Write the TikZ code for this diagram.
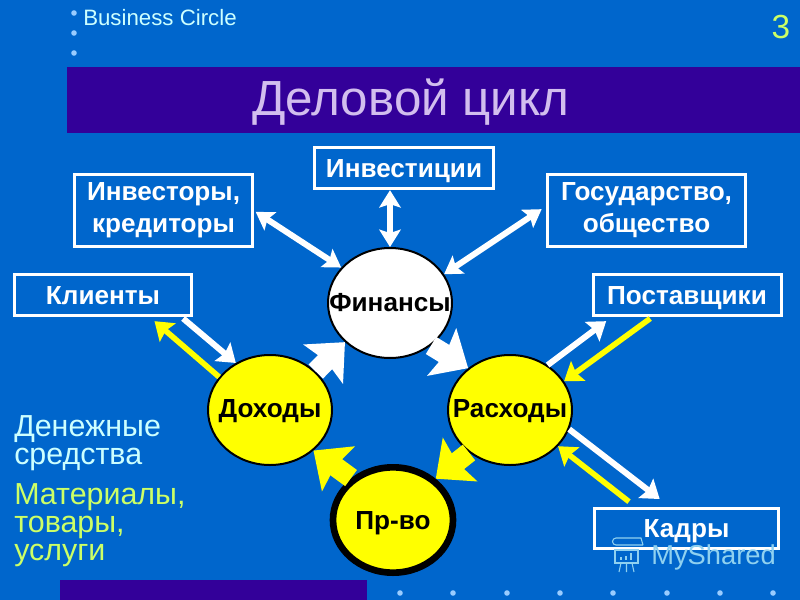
\documentclass[tikz,border=0pt]{standalone}
\usepackage{fontspec}
\setmainfont{Liberation Sans}
\usetikzlibrary{arrows.meta,shapes.geometric}
\definecolor{bgblue}{HTML}{0066CC}
\definecolor{barblue}{HTML}{330099}
\definecolor{lilac}{HTML}{D2BEEE}
\definecolor{pale}{HTML}{CCFFFF}
\definecolor{lime}{HTML}{CCFF66}
\definecolor{dotc}{HTML}{99CCFF}
\definecolor{yel}{HTML}{FFFF00}
\colorlet{wmark}{pale!70!bgblue}
\tikzset{
  x=0.75pt,y=-0.75pt,
  boxn/.style={draw=white,line width=2.25pt,inner sep=0pt,align=center,text=white,font=\fontsize{19.6}{24}\selectfont\bfseries},
  oneline/.style={boxn,text height=14pt,text depth=0pt},
  circn/.style={ellipse,draw=black,line width=1.5pt,inner sep=0pt,minimum width=93pt,minimum height=82.5pt},
  circt/.style={inner sep=0pt,text=black,font=\fontsize{19.6}{22}\selectfont\bfseries},
  thinw/.style={draw=white,fill=white,line width=4.5pt,-{Stealth[length=13pt,width=18pt,inset=2pt]}},
  thiny/.style={draw=yel,fill=yel,line width=4.2pt,-{Stealth[length=13pt,width=18pt,inset=2pt]}},
  dbl/.style={draw=white,fill=white,line width=4.5pt,{Stealth[length=13pt,width=16pt,inset=2.5pt]}-{Stealth[length=13pt,width=16pt,inset=2.5pt]}},
  bigw/.style={draw=white,fill=white,line width=15pt,-{Stealth[length=23pt,width=41pt,inset=3pt]}},
  bigy/.style={draw=yel,fill=yel,line width=15pt,-{Stealth[length=23pt,width=41pt,inset=3pt]}},
  dotn/.style={circle,fill=dotc,inner sep=0pt,minimum size=4.2pt},
  lab/.style={anchor=west,inner sep=0pt,align=left,font=\fontsize{22.8}{21}\selectfont}
}
\begin{document}
\begin{tikzpicture}
\useasboundingbox (0,0) rectangle (800,600);
\fill[bgblue] (0,0) rectangle (800,600);
\fill[barblue] (67,67) rectangle (800,133);
\fill[barblue] (60,580) rectangle (367,600);
\foreach \y [count=\i] in {13,33,53} \node[dotn] (dt\i) at (74,\y) {};
\foreach \x [count=\i] in {400,453,507,560,613,667,720,773} \node[dotn] (db\i) at (\x,593) {};
\node[anchor=west,inner sep=0pt,text=pale,font=\fontsize{16.7}{20}\selectfont] (bc) at (83,18) {Business Circle};
\node[inner sep=0pt,text=lime,font=\fontsize{25}{30}\selectfont] (num) at (781,27) {3};
\node[inner sep=0pt,text=lilac,font=\fontsize{37}{44}\selectfont] (title) at (411,102) {Деловой цикл};

\node[oneline,text width=134pt,minimum height=31pt] (invest) at (404,168) {Инвестиции};
\node[boxn,text width=134pt,minimum height=54pt] (inv) at (163.5,210.5) {Инвесторы,\\кредиторы};
\node[boxn,text width=149pt,minimum height=54pt] (gos) at (646.5,210.5) {Государство,\\общество};
\node[oneline,text width=133pt,minimum height=31pt] (kli) at (103,295) {Клиенты};
\node[oneline,text width=141pt,minimum height=31pt] (post) at (687,295) {Поставщики};
\node[oneline,text width=138pt,minimum height=30pt] (kad) at (686.5,528.5) {Кадры};

\node[circn,fill=white] (fin) at (390,303) {};
\node[circt] (fint) at (fin.center) {Финансы};
\node[circn,fill=yel] (dox) at (270,410) {};
\node[circt] (doxt) at (270,411) {Доходы};
\node[circn,fill=yel] (ras) at (510,410) {};
\node[circt] (rast) at (510,411) {Расходы};
\node[circn,fill=yel,line width=5pt,minimum width=90pt,minimum height=79pt] (pro) at (393,520) {};
\node[circt] (prot) at (393,523) {Пр-во};

\draw[dbl] (fin.north) -- (fin.north |- invest.south);
\draw[dbl] ([xshift=1pt,yshift=-1pt]inv.east) -- (fin.144);
\draw[dbl] ([xshift=-3pt,yshift=1pt]gos.west) -- (fin.28);
\draw[thinw] ([xshift=-7.5pt,yshift=-1pt]kli.south east) -- (dox.126);
\draw[thiny] (dox.147) -- ([xshift=-29pt,yshift=-3pt]kli.south east);
\draw[thinw] (ras.50) -- ([xshift=11pt,yshift=-3pt]post.south west);
\draw[thiny] ([xshift=44pt,yshift=-1pt]post.south west) -- (ras.28);
\draw[thinw] (ras.342) -- ([xshift=50pt,yshift=6pt]kad.north west);
\draw[thiny] ([xshift=27pt,yshift=4pt]kad.north west) -- (ras.323);
\draw[bigw] (dox.40) -- (fin.221);
\draw[bigw] (fin.314) -- (ras.135);
\draw[bigy] (ras.226) -- (pro.44);
\draw[bigy] (pro.135) -- (dox.317);

\node[lab,text=pale] (den) at (14,443) {Денежные\\средства};
\node[lab,text=lime] (mat) at (14,525) {Материалы,\\товары,\\услуги};
\node[anchor=west,inner sep=0pt,text=wmark,font=\fontsize{20.5}{24}\selectfont] (ms) at (651,557) {MyShared};
\begin{scope}[draw=wmark,line width=0.8pt]
\draw (643,545) -- (641,538) -- (616,538) arc (270:90:3.5) -- (643,545);
\draw (615,550) rectangle (638,563);
\draw (621,563) -- (619,572) (632,563) -- (634,572) (626.5,563) -- (626.5,572);
\draw (621,560) -- (621,557) (626,560) -- (626,556) (631,560) -- (631,553);
\end{scope}
\end{tikzpicture}
\end{document}
